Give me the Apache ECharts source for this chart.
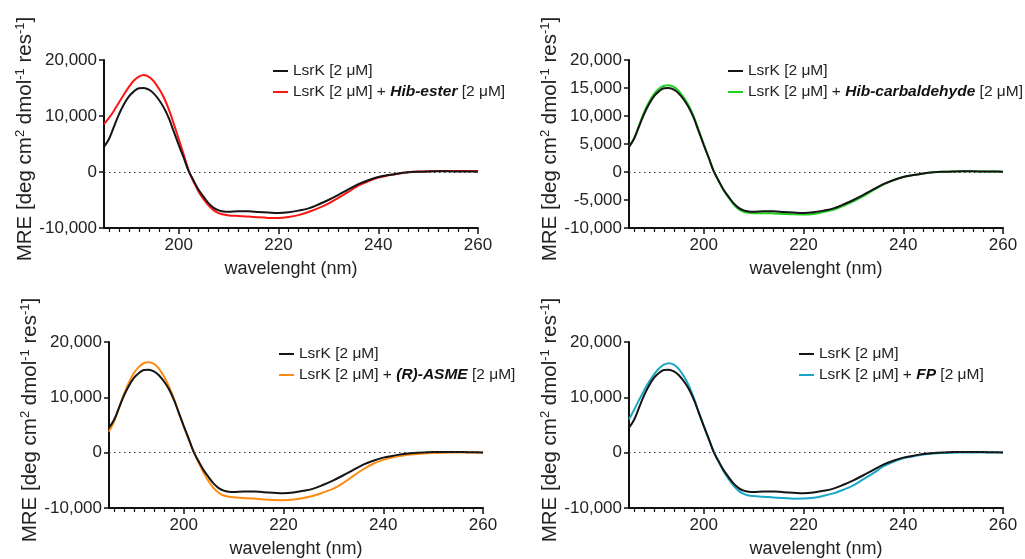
<!DOCTYPE html>
<html>
<head>
<meta charset="utf-8">
<script src="https://cdn.jsdelivr.net/npm/echarts@6/dist/echarts.min.js"></script>
<style>
  html, body { margin: 0; padding: 0; background: #fff; }
  #chart { width: 1025px; height: 559px; }
</style>
</head>
<body>
<div id="chart"></div>
<script>
// 파장 (nm)
var wavelength = [185,186,187,188,189,190,191,192,193,194,195,196,197,198,199,200,201,202,203,204,205,206,207,208,209,210,
    212,214,216,218,220,222,224,226,228,230,232,234,236,238,240,242,244,246,248,250,252,254,256,258,260];

// LsrK 단독 (검정)
var lsrk = [4500,5900,8100,10300,12100,13500,14400,14950,15000,14700,14000,12900,11500,9600,7200,4800,2500,100,-1600,-3200,-4450,-5600,-6400,-6850,-7050,-7100,
    -7000,-7000,-7150,-7250,-7320,-7200,-6900,-6500,-5800,-5000,-4080,-3120,-2170,-1470,-900,-550,-250,-50,50,100,120,120,100,80,50];

// LsrK + Hib-ester (빨강)
var hibEster = [8550,9650,10950,12400,13850,15200,16350,17050,17300,17000,16200,14900,13300,11200,8600,5850,3050,250,-1800,-3550,-4900,-6000,-6850,-7350,-7600,-7750,
    -7850,-7950,-8100,-8200,-8220,-8050,-7700,-7150,-6450,-5650,-4610,-3550,-2450,-1650,-1010,-600,-300,-60,80,150,180,180,180,170,160];

// LsrK + Hib-carbaldehyde (초록)
var hibCarb = [4600,6000,8300,10600,12450,13900,14850,15400,15500,15200,14450,13300,11850,9900,7450,4950,2550,150,-1650,-3300,-4600,-5800,-6650,-7100,-7300,-7350,
    -7350,-7400,-7480,-7550,-7580,-7480,-7150,-6750,-6050,-5250,-4300,-3250,-2250,-1450,-900,-550,-250,-50,50,100,120,120,100,80,60];

// LsrK + (R)-ASME (주황)
var rAsme = [3800,5600,8100,10600,12700,14400,15500,16200,16350,16050,15200,13800,12000,9800,7200,4700,2300,150,-1900,-3700,-5200,-6400,-7250,-7750,-7950,-8050,
    -8200,-8300,-8450,-8550,-8580,-8480,-8200,-7800,-7180,-6500,-5450,-4200,-3000,-2000,-1310,-850,-520,-300,-150,-60,0,20,20,10,0];

// LsrK + FP (청록)
var fp = [6000,7700,9500,11200,12750,14100,15200,15900,16150,15900,15100,13800,12100,9900,7300,4800,2400,150,-1700,-3400,-4800,-6000,-6900,-7450,-7750,-7850,
    -7950,-8100,-8200,-8320,-8300,-8150,-7800,-7350,-6700,-5900,-4800,-3700,-2500,-1650,-1010,-650,-350,-150,-50,0,20,30,30,20,10];

var xMajor = [200, 220, 240, 260];
var xMinor = [186,188,190,192,194,196,198,202,204,206,208,210,212,214,216,218,222,224,226,228,230,232,234,236,238,242,244,246,248,250,252,254,256,258];

var lsrkName = 'LsrK [2 μM]';

// 패널 정보 (화합물 이름, 데이터, 색, y축 간격)
var panels = [
    { name: 'Hib-ester', data: hibEster, color: '#ff1414', step: 10000, grid: { left: 104, top: 60 }, legend: { left: 268, top: 58 } },
    { name: 'Hib-carbaldehyde', data: hibCarb, color: '#1fd21f', step: 5000, grid: { left: 629, top: 60 }, legend: { left: 723, top: 58 } },
    { name: '(R)-ASME', data: rAsme, color: '#ff8a12', step: 10000, grid: { left: 109, top: 342 }, legend: { left: 274, top: 341 } },
    { name: 'FP', data: fp, color: '#1aa7c4', step: 10000, grid: { left: 629, top: 342 }, legend: { left: 794, top: 341 } }
];

function pairs(ys) {
    var out = [];
    for (var i = 0; i < wavelength.length; i++) {
        out.push([wavelength[i], ys[i]]);
    }
    return out;
}

function fmt(v) {
    return v.toLocaleString('en-US');
}

var font = 'Liberation Sans, Arial, sans-serif';
var textColor = '#222';

var grids = [], xAxes = [], yAxes = [], series = [], legends = [];

panels.forEach(function (p, i) {
    grids.push({ left: p.grid.left, top: p.grid.top, width: 374, height: 168 });

    // 주 눈금 x축
    xAxes.push({
        type: 'value', gridIndex: i, min: 185, max: 260,
        name: 'wavelenght (nm)', nameLocation: 'middle', nameGap: 32,
        nameTextStyle: { fontSize: 18, color: textColor, fontFamily: font },
        axisLine: { onZero: false, lineStyle: { color: '#111', width: 2 } },
        axisTick: { length: 6, customValues: xMajor, lineStyle: { color: '#111', width: 1.5 } },
        axisLabel: { customValues: xMajor, fontSize: 17, color: textColor, fontFamily: font, margin: 9 },
        splitLine: { show: false }
    });
    // 보조 눈금 (2 nm)
    xAxes.push({
        type: 'value', gridIndex: i, min: 185, max: 260, position: 'bottom',
        axisLine: { show: false, onZero: false },
        axisTick: { show: true, length: 4, customValues: xMinor, lineStyle: { color: '#111', width: 1.2 } },
        axisLabel: { show: false },
        splitLine: { show: false }
    });

    yAxes.push({
        type: 'value', gridIndex: i, min: -10000, max: 20000, interval: p.step,
        name: '{m|MRE [deg cm}{s|2}{m| dmol}{s|-1}{m| res}{s|-1}{m|]}',
        nameLocation: 'middle', nameGap: 66,
        nameTextStyle: {
            color: textColor,
            padding: [0, 0, 0, 10],
            rich: {
                m: { fontSize: 20.5, fontFamily: font, color: textColor, lineHeight: 22, verticalAlign: 'bottom' },
                s: { fontSize: 13, fontFamily: font, color: textColor, lineHeight: 22, verticalAlign: 'top' }
            }
        },
        axisLine: { show: true, onZero: false, lineStyle: { color: '#111', width: 2 } },
        axisTick: { show: true, length: 5, lineStyle: { color: '#111', width: 1.5 } },
        axisLabel: { formatter: fmt, fontSize: 17, color: textColor, fontFamily: font, margin: 7 },
        splitLine: { show: false }
    });

    // 화합물 곡선 먼저, 검정이 위로
    series.push({
        name: p.name, type: 'line', xAxisIndex: i * 2, yAxisIndex: i,
        data: pairs(p.data), smooth: 0.35, showSymbol: false, symbol: 'none',
        lineStyle: { color: p.color, width: 2 }, itemStyle: { color: p.color }
    });
    series.push({
        name: lsrkName, type: 'line', xAxisIndex: i * 2, yAxisIndex: i,
        data: pairs(lsrk), smooth: 0.35, showSymbol: false, symbol: 'none',
        lineStyle: { color: '#151515', width: 2 }, itemStyle: { color: '#151515' },
        markLine: {
            silent: true, symbol: 'none', label: { show: false },
            lineStyle: { color: '#333', width: 1.2, type: [1.5, 3.5] },
            data: [{ yAxis: 0 }]
        }
    });

    legends.push({
        data: [lsrkName, p.name],
        orient: 'vertical', left: p.legend.left, top: p.legend.top,
        icon: 'rect', itemWidth: 15, itemHeight: 2, itemGap: 5,
        selectedMode: false,
        formatter: function (n) {
            if (n == lsrkName) return n;
            return 'LsrK [2 μM] + {b|' + n + '} [2 μM]';
        },
        textStyle: {
            fontSize: 15.5, color: textColor, fontFamily: font,
            rich: { b: { fontSize: 15.5, fontWeight: 'bold', fontStyle: 'italic', color: '#111', fontFamily: font } }
        }
    });
});

var myChart = echarts.init(document.getElementById('chart'));
var option = {
    animation: false,
    backgroundColor: '#fff',
    grid: grids,
    xAxis: xAxes,
    yAxis: yAxes,
    legend: legends,
    series: series
};
myChart.setOption(option);
</script>
</body>
</html>
